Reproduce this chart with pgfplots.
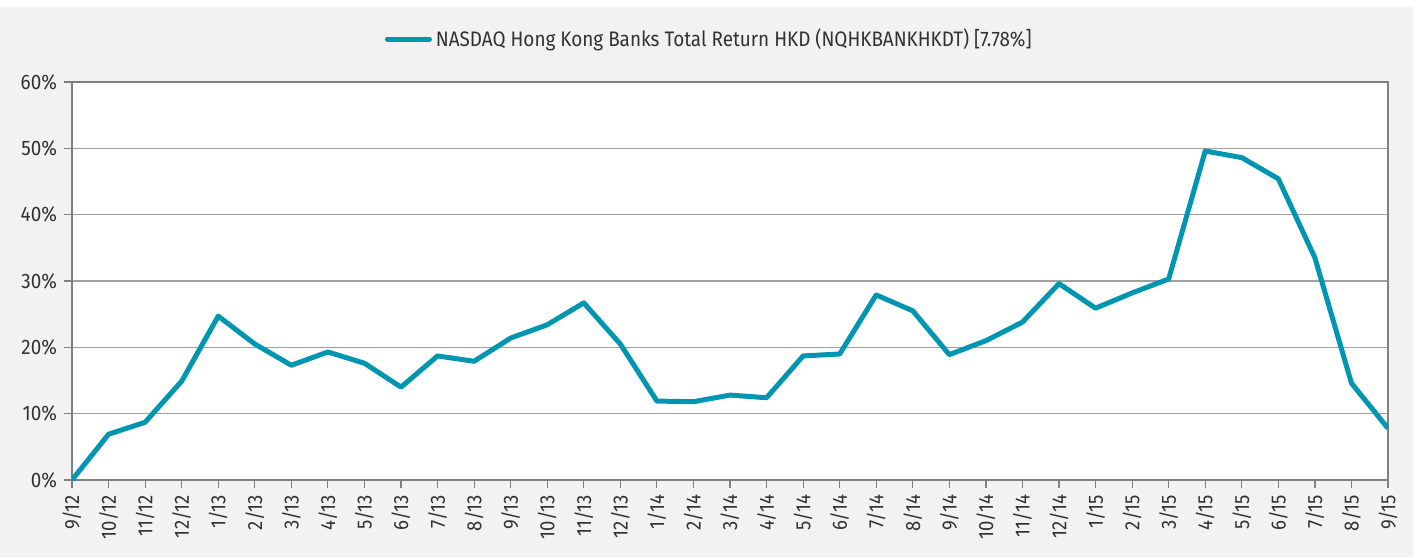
\documentclass[border=0pt]{standalone}
\usepackage{pgfplots}
\pgfplotsset{compat=1.18}
\usepackage{fontspec}
\setmainfont{Fira Sans}[FakeStretch=0.9]
\definecolor{lineblue}{RGB}{0,150,178}
\definecolor{bggray}{RGB}{242,242,242}
\definecolor{axgray}{RGB}{128,128,128}
\definecolor{gridgray}{RGB}{160,160,160}
\definecolor{txt}{RGB}{50,50,50}
\begin{document}
\begin{tikzpicture}[x=1pt,y=1pt]
\path[use as bounding box] (-36,-38.5) rectangle (673,240);
\fill[bggray] (-36,-38.5) rectangle (670.5,236.5);
\begin{axis}[
  at={(0,0)}, anchor=south west,
  scale only axis, width=658pt, height=199pt,
  xmin=0, xmax=36, ymin=0, ymax=60,
  axis background/.style={fill=white},
  xtick={0,...,36},
  xtick pos=bottom, ytick pos=left,
  xticklabels={9/12,10/12,11/12,12/12,1/13,2/13,3/13,4/13,5/13,6/13,7/13,8/13,9/13,10/13,11/13,12/13,1/14,2/14,3/14,4/14,5/14,6/14,7/14,8/14,9/14,10/14,11/14,12/14,1/15,2/15,3/15,4/15,5/15,6/15,7/15,8/15,9/15},
  x tick label style={rotate=90, anchor=east, font=\fontsize{10.3}{11}\selectfont, text=txt},
  ytick={0,10,...,60},
  yticklabel={\pgfmathprintnumber{\tick}\%},
  /pgf/number format/assume math mode=true,
  y tick label style={font=\fontsize{10.5}{11}\selectfont, text=txt},
  ymajorgrids, major grid style={gridgray, line width=0.6pt},
  axis line style={axgray, line width=1pt},
  tick style={axgray, line width=0.6pt},
  tick align=outside, major tick length=4pt,
  legend style={at={(0.485,1.108)}, anchor=center, draw=none, fill=none, font=\fontsize{10.5}{12}\selectfont, text=txt, inner sep=0pt},
  legend image code/.code={\draw[#1, line width=2.5pt, line cap=round] (0pt,0pt) -- (21pt,0pt);},
]
\addplot[lineblue, line width=2.5pt, line join=round] coordinates {
(0,0) (1,6.9) (2,8.7) (3,14.9) (4,24.7) (5,20.5) (6,17.3) (7,19.3) (8,17.6) (9,14.0)
(10,18.7) (11,17.9) (12,21.4) (13,23.4) (14,26.7) (15,20.5) (16,11.9) (17,11.8) (18,12.8) (19,12.4)
(20,18.7) (21,19.0) (22,27.9) (23,25.5) (24,18.9) (25,21.0) (26,23.8) (27,29.6) (28,25.9) (29,28.2)
(30,30.3) (31,49.6) (32,48.6) (33,45.4) (34,33.5) (35,14.6) (36,7.78)
};
\addlegendentry{NASDAQ Hong Kong Banks Total Return HKD (NQHKBANKHKDT) [7.78\%]}
\end{axis}
\end{tikzpicture}
\end{document}
